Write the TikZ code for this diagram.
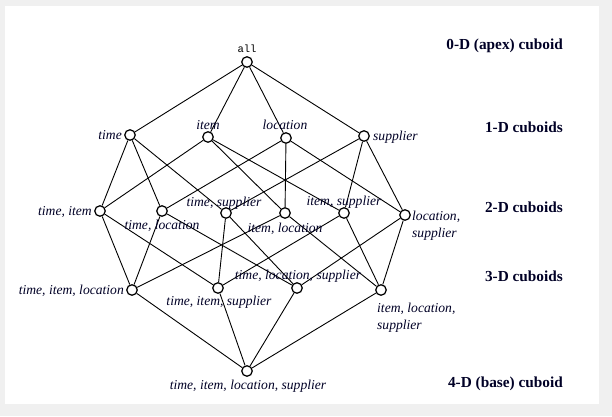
\documentclass[tikz,border=0pt]{standalone}
\usepackage{fontspec}
\setmainfont{Liberation Serif}
\newfontfamily\monof{Liberation Mono}
\begin{document}
\begin{tikzpicture}[x=1pt,y=-1pt,
  pt/.style={circle,draw,fill=white,minimum size=10.5pt,inner sep=0pt,line width=1.25pt},
  lab/.style={inner sep=0pt,font=\fontsize{13.6}{17}\selectfont\itshape,text=black!85!blue},
  lev/.style={inner sep=0pt,anchor=east,font=\fontsize{15.3}{17}\selectfont\bfseries,text=black!85!blue},
  edge/.style={line width=0.9pt}]
\fill[black!6] (0,0) rectangle (612,416);
\fill[white] (5,6) rectangle (599,404);
% points
\node[pt] (all) at (247,62) {};
\node[pt] (t) at (130,135) {};
\node[pt] (i) at (208,137) {};
\node[pt] (l) at (286,138) {};
\node[pt] (s) at (364,136) {};
\node[pt] (ti) at (100,211) {};
\node[pt] (tl) at (162,211) {};
\node[pt] (ts) at (226,213) {};
\node[pt] (il) at (285,213) {};
\node[pt] (is) at (344,213) {};
\node[pt] (ls) at (405,215) {};
\node[pt] (til) at (132,290) {};
\node[pt] (tis) at (218,288) {};
\node[pt] (tls) at (297,288) {};
\node[pt] (ils) at (381,290) {};
\node[pt] (base) at (247,371) {};
% edges
\foreach \a/\b in {all/t,all/i,all/l,all/s,
  t/ti,t/tl,t/ts,i/ti,i/il,i/is,l/tl,l/il,l/ls,s/ts,s/is,s/ls,
  ti/til,ti/tis,tl/til,tl/tls,ts/tis,ts/tls,il/til,il/ils,is/tis,is/ils,ls/tls,ls/ils,
  til/base,tis/base,tls/base,ils/base}
  \draw[edge] (\a) -- (\b);
% labels
\node[inner sep=0pt,font=\monof\fontsize{10.5}{11}\selectfont] (allL) at (247,49) {all};
\node[lab,anchor=east] (tL) at (122,135) {time};
\node[lab] (iL) at (208,125) {item};
\node[lab] (lL) at (285,125) {location};
\node[lab,anchor=west] (sL) at (373,137) {supplier};
\node[lab,anchor=east] (tiL) at (92,212) {time, item};
\node[lab] (tlL) at (162,226) {time, location};
\node[lab] (tsL) at (224,203) {time, supplier};
\node[lab] (ilL) at (285,229) {item, location};
\node[lab] (isL) at (344,202) {item, supplier};
\node[lab,anchor=north west,align=left] (lsL) at (412,211) {location,\\supplier};
\node[lab,anchor=east] (tilL) at (124,291) {time, item, location};
\node[lab] (tisL) at (219,302) {time, item, supplier};
\node[lab] (tlsL) at (298,276) {time, location, supplier};
\node[lab,anchor=north west,align=left] (ilsL) at (377,303) {item, location,\\supplier};
\node[lab] (baseL) at (248,386) {time, item, location, supplier};
% level labels
\node[lev] (l0) at (563,46) {0-D (apex) cuboid};
\node[lev] (l1) at (563,127) {1-D cuboids};
\node[lev] (l2) at (563,207) {2-D cuboids};
\node[lev] (l3) at (563,276) {3-D cuboids};
\node[lev] (l4) at (563,384) {4-D (base) cuboid};
\end{tikzpicture}
\end{document}
